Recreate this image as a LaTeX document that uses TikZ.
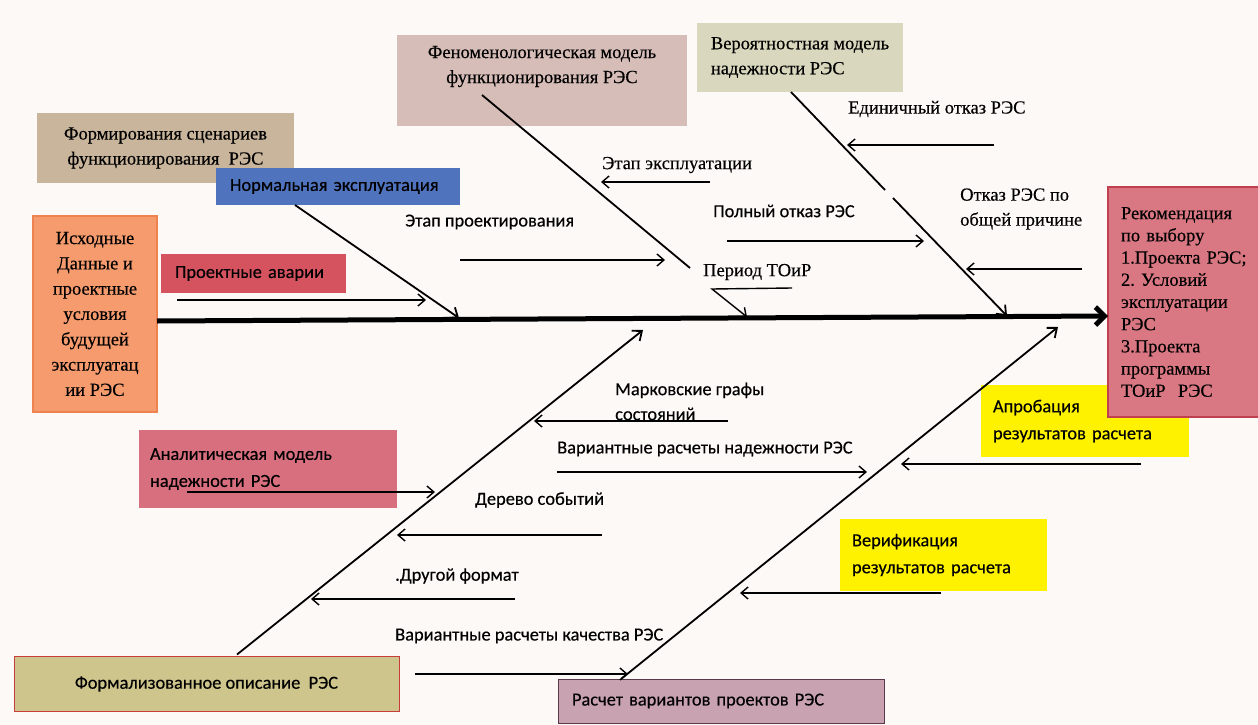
\documentclass[tikz,border=0pt]{standalone}
\usepackage{fontspec}
\setmainfont{Liberation Serif}[FakeBold=0.3]
\newfontfamily\carlito{Carlito}[FakeBold=0.3]
\usetikzlibrary{arrows.meta,calc}
\frenchspacing
\definecolor{bg}{HTML}{FCF9F6}
\definecolor{cform}{HTML}{C9B59C}
\definecolor{cnorm}{HTML}{5073BE}
\definecolor{cisx}{HTML}{F59B6E}
\definecolor{cisxb}{HTML}{EF8350}
\definecolor{cproekt}{HTML}{D5525F}
\definecolor{cfenom}{HTML}{D6BDB8}
\definecolor{cver}{HTML}{D9D8BE}
\definecolor{crek}{HTML}{D97782}
\definecolor{crekb}{HTML}{C0404F}
\definecolor{canalit}{HTML}{D86F7E}
\definecolor{cformal}{HTML}{CEC58C}
\definecolor{cformalb}{HTML}{C83C3C}
\definecolor{cyel}{HTML}{FFF200}
\definecolor{crasch}{HTML}{C9A2B2}
\definecolor{craschb}{HTML}{5A3A4A}
\begin{document}
\begin{tikzpicture}[x=1pt,y=-1pt,
  serif/.style={font=\fontsize{18.5}{25}\selectfont},
  sans/.style={font=\carlito\fontsize{18.4}{27}\selectfont},
  box/.style={inner sep=0pt, outer sep=0pt},
  lbl/.style={inner sep=0pt, anchor=west},
  bone/.style={line width=1.8pt, -{Straight Barb[length=8pt,width=13pt]}},
  plainbone/.style={line width=1.8pt},
  arr/.style={line width=1.4pt, -{Straight Barb[length=7pt,width=12pt]}},
  spine/.style={line width=5pt, -{Straight Barb[length=9pt,width=18pt]}}
]
\fill[bg] (0,0) rectangle (1258,725);
\useasboundingbox (0,0) rectangle (1258,725);

% ---------- boxes ----------
\node[box, fill=cform, minimum width=257pt, minimum height=70pt, serif, align=center] (form) at (165.5,148) {Формирования сценариев\\функционирования\ \ РЭС};
\node[box, fill=cnorm, minimum width=244pt, minimum height=37pt, sans, text width=216pt, align=left] (norm) at (338,186.5) {Нормальная эксплуатация};
\node[box, fill=cisx, draw=cisxb, line width=1.5pt, minimum width=124pt, minimum height=196pt, font=\fontsize{18.5}{25.3}\selectfont, align=center] (isx) at (95,314) {Исходные\\Данные и\\проектные\\условия\\будущей\\эксплуатац\\ии РЭС};
\node[box, fill=cproekt, minimum width=185pt, minimum height=39pt, sans, text width=157pt, align=left] (proekt) at (253.5,273.5) {Проектные аварии};
\node[box, fill=cfenom, minimum width=290pt, minimum height=91pt] (fenom) at (542,80.5) {};
\node[serif, align=center, inner sep=0pt] (fenomT) at (542,66.5) {Феноменологическая модель\\функционирования РЭС};
\node[box, fill=cver, minimum width=206pt, minimum height=69pt, serif, align=left] (ver) at (800,57.5) {Вероятностная модель\\надежности РЭС};

\node[box, fill=canalit, minimum width=258pt, minimum height=78pt, sans, text width=236pt, align=left] (analit) at (268,469) {Аналитическая модель\\надежности РЭС};
\node[box, fill=cformal, draw=cformalb, line width=1pt, minimum width=385pt, minimum height=55pt, sans] (formal) at (206.5,684) {Формализованное описание\ \ РЭС};
\node[box, fill=cyel, minimum width=208pt, minimum height=72pt, sans, text width=184pt, align=left] (aprob) at (1085,421) {Апробация\\результатов расчета};
\node[box, fill=cyel, minimum width=207pt, minimum height=72pt, sans, text width=183pt, align=left] (verif) at (943.5,555) {Верификация\\результатов расчета};
\node[box, fill=crasch, draw=craschb, line width=1pt, minimum width=326pt, minimum height=44pt, sans, text width=298pt, align=left] (rasch) at (721,701) {Расчет вариантов проектов РЭС};
\node[box, fill=crek, draw=crekb, line width=1.5pt, minimum width=152pt, minimum height=230pt, font=\fontsize{18.5}{22.2}\selectfont, text width=126pt, align=left] (rek) at (1184,302) {Рекомендация\\по выбору\\1.Проекта РЭС;\\2. Условий\\эксплуатации\\РЭС\\3.Проекта\\программы\\ТОиР\ \ РЭС};

% ---------- labels ----------
\node[lbl, sans] (l1) at (405,222) {Этап проектирования};
\node[lbl, serif] (l2) at (602,165) {Этап эксплуатации};
\node[lbl, serif] (l3) at (703,272) {Период ТОиР};
\node[lbl, sans] (l4) at (713,211) {Полный отказ РЭС};
\node[lbl, serif] (l5) at (848,109) {Единичный отказ РЭС};
\node[lbl, serif, align=left] (l6) at (960,209) {Отказ РЭС по\\общей причине};
\node[lbl, sans, align=left, font=\carlito\fontsize{18.4}{25}\selectfont] (l7) at (615,401.5) {Марковские графы\\состояний};
\node[lbl, sans] (l8) at (557,449) {Вариантные расчеты надежности РЭС};
\node[lbl, sans] (l9) at (475,500) {Дерево событий};
\node[lbl, sans] (l10) at (395,576) {.Другой формат};
\node[lbl, sans] (l11) at (395,636) {Вариантные расчеты качества РЭС};

% ---------- spine ----------
\coordinate (sp0) at ($(isx.east)+(0,7)$);
\coordinate (sp1) at ($(rek.west)+(0,14)$);
\draw[spine] (sp0) -- (sp1);

% ---------- upper bones ----------
\coordinate (eA) at (459,318);
\draw[bone] ($(norm.south west)+(79,0)$) -- (eA);
\coordinate (pa0) at (177,300);
\coordinate (pa1) at (426,300);
\draw[arr] (pa0) -- (pa1);

\coordinate (eB) at (690,268);
\draw[plainbone] ($(fenom.south west)+(85,-31)$) -- (eB);
\coordinate (ep0) at (710,182);
\coordinate (ep1) at (601,182);
\draw[arr] (ep0) -- (ep1);
\coordinate (pr0) at (460,260);
\coordinate (pr1) at (665,260);
\draw[arr] (pr0) -- (pr1);
\coordinate (to0) at (792,288);
\coordinate (to1) at (712,289);
\coordinate (to2) at (747,317);
\draw[arr] (to0) -- (to1) -- (to2);

\coordinate (gC0) at (885,190);
\coordinate (gC1) at (893,198);
\coordinate (eC) at (1007,316);
\draw[plainbone] ($(ver.south west)+(94,0)$) -- (gC0);
\draw[bone] (gC1) -- (eC);
\coordinate (ed0) at (994,145);
\coordinate (ed1) at (847,145);
\draw[arr] (ed0) -- (ed1);
\coordinate (po0) at (727,241);
\coordinate (po1) at (924,241);
\draw[arr] (po0) -- (po1);
\coordinate (ob0) at (1082,269);
\coordinate (ob1) at (966,269);
\draw[arr] (ob0) -- (ob1);

% ---------- lower bones ----------
\coordinate (eD) at (643,330);
\draw[bone] ($(formal.north west)+(223,-2)$) -- (eD);
\coordinate (mk0) at (728,421);
\coordinate (mk1) at (534,421);
\draw[arr] (mk0) -- (mk1);
\draw[arr] ($(analit.west)+(48,23)$) -- ++(248,0) coordinate (an1);
\coordinate (vn0) at (557,472);
\coordinate (vn1) at (867,472);
\draw[arr] (vn0) -- (vn1);
\coordinate (ds0) at (602,535);
\coordinate (ds1) at (397,535);
\draw[arr] (ds0) -- (ds1);
\coordinate (df0) at (515,599);
\coordinate (df1) at (311,599);
\draw[arr] (df0) -- (df1);

\coordinate (eE) at (1058,327);
\draw[bone] ($(rasch.north west)+(63,0)$) -- (eE);
\coordinate (ap0) at (1141,464);
\coordinate (ap1) at (901,464);
\draw[arr] (ap0) -- (ap1);
\coordinate (vf0) at (941,593);
\coordinate (vf1) at (740,593);
\draw[arr] (vf0) -- (vf1);
\draw[arr] ($(formal.east)+(16,-10)$) -- (628,674) coordinate (fk1);
\end{tikzpicture}
\end{document}
